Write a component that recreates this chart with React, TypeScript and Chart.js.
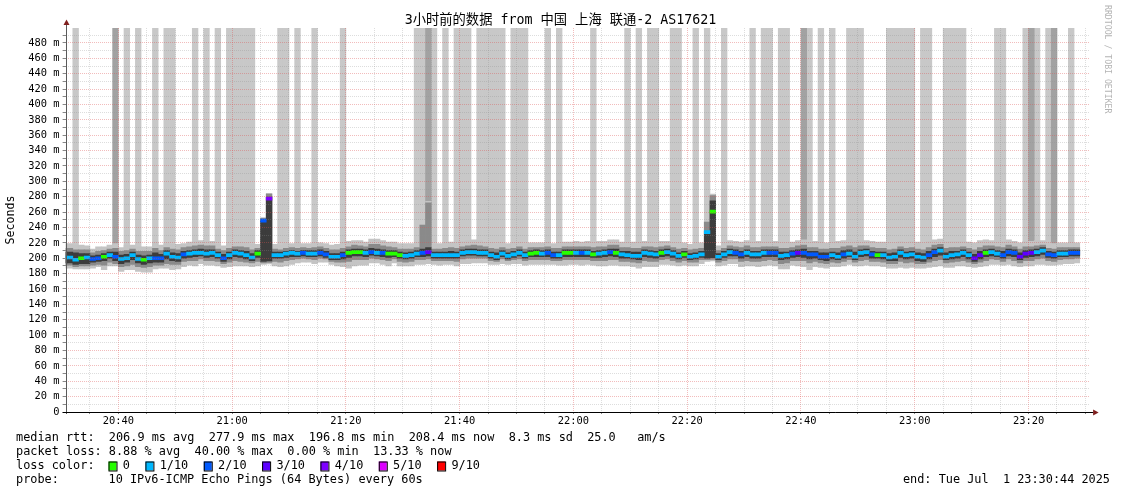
import React, { useEffect, useRef } from "react";
import { Chart, registerables } from "chart.js";

Chart.register(...registerables);

// ---------- DATA ----------
// Columns are one-minute RRD steps; FIRST_MINUTE = minutes after 20:00 of the first column.
const FIRST_MINUTE = 30;
const X_MIN = 30.733; // 20:30:44
const X_MAX = 210.733; // 23:30:44
const Y_MIN = 0;
const Y_MAX = 499.5;

const medianRtt = [
  201,
  201, 198, 200, 201, 199, 200, 202, 204, 202, 199,
  200, 204, 199, 198, 200, 200, 200, 206, 202, 201,
  205, 206, 207, 207, 206, 207, 204, 200, 204, 207,
  206, 204, 201, 206, 249, 277.5, 204, 204, 206, 207,
  206, 207, 206, 206, 207, 205, 202, 202, 204, 207,
  208, 208, 207, 208, 207, 207, 206, 206, 204, 203,
  204, 206, 207, 208, 204, 204, 204, 204, 204, 207,
  208, 208, 207, 207, 204, 202, 206, 203, 205, 207,
  204, 206, 207, 206, 207, 204, 204, 207, 207, 207,
  207, 207, 205, 206, 207, 208, 207, 205, 204, 203,
  203, 207, 206, 205, 207, 208, 206, 203, 205, 202,
  203, 205, 234, 260.6, 202, 205, 208, 207, 205, 207,
  205, 205, 207, 207, 207, 203, 204, 206, 207, 207,
  205, 205, 202, 202, 204, 202, 205, 206, 202, 207,
  208, 205, 204, 204, 201, 202, 207, 204, 205, 202,
  201, 204, 208, 210, 202, 204, 205, 207, 204, 200,
  204, 207, 208, 206, 204, 208, 207, 202, 206, 207,
  208, 210, 205, 204, 206, 206, 207, 207,
];

// lost pings out of 10 for every column
const lossCount = [
  1,
  1, 1, 0, 1, 2, 2, 0, 1, 2, 1,
  1, 1, 1, 0, 1, 2, 2, 1, 1, 1,
  2, 1, 1, 1, 1, 1, 1, 2, 1, 1,
  1, 1, 1, 0, 2, 4, 1, 1, 1, 1,
  1, 2, 1, 1, 2, 2, 1, 1, 2, 0,
  0, 0, 1, 2, 1, 2, 0, 0, 0, 1,
  1, 1, 2, 3, 1, 1, 1, 1, 1, 1,
  1, 1, 1, 1, 1, 1, 1, 1, 1, 1,
  1, 0, 0, 1, 2, 2, 1, 0, 0, 1,
  2, 1, 0, 1, 1, 2, 0, 1, 1, 1,
  1, 1, 1, 1, 0, 1, 1, 1, 0, 1,
  1, 1, 1, 0, 1, 1, 1, 2, 2, 1,
  1, 1, 1, 2, 2, 1, 1, 2, 3, 2,
  2, 2, 2, 2, 1, 1, 2, 1, 1, 1,
  1, 2, 0, 1, 1, 1, 1, 1, 1, 1,
  1, 2, 2, 1, 1, 1, 1, 1, 1, 3,
  3, 0, 1, 1, 2, 2, 2, 3, 3, 3,
  1, 1, 2, 2, 1, 1, 2, 2,
];

// smoke: spread of the ping distribution below / above the median (ms)
const outerBelow = [
  14,
  14, 12, 14, 15, 12, 11, 17, 14, 12, 16,
  15, 19, 16, 16, 18, 14, 13, 19, 17, 15,
  16, 15, 17, 14, 15, 16, 14, 12, 15, 17,
  16, 14, 12, 16, 57, 85, 14, 15, 16, 15,
  12, 12, 11, 13, 12, 10, 10, 12, 15, 20,
  18, 17, 16, 14, 13, 15, 16, 12, 14, 13,
  14, 14, 15, 15, 12, 13, 12, 12, 14, 14,
  15, 14, 13, 13, 12, 10, 13, 11, 12, 14,
  13, 14, 15, 14, 15, 12, 13, 16, 15, 15,
  16, 15, 14, 16, 17, 17, 16, 15, 14, 14,
  16, 18, 17, 16, 15, 16, 15, 13, 14, 12,
  13, 12, 38, 64, 12, 14, 15, 14, 16, 17,
  15, 16, 17, 16, 17, 17, 18, 15, 17, 18,
  20, 16, 14, 15, 15, 13, 15, 14, 12, 17,
  17, 15, 14, 15, 14, 15, 19, 17, 17, 15,
  14, 16, 19, 20, 14, 16, 15, 17, 15, 12,
  15, 17, 16, 14, 13, 16, 17, 13, 16, 17,
  16, 18, 14, 13, 14, 13, 14, 13,
];
const outerAbove = [
  18,
  18, 19, 17, 15, 13, 15, 13, 13, 17, 15,
  17, 13, 16, 17, 15, 21, 17, 13, 16, 17,
  14, 15, 15, 16, 16, 15, 14, 16, 15, 13,
  15, 16, 17, 12, 4, 7, 14, 13, 13, 12,
  13, 12, 13, 14, 13, 14, 15, 16, 16, 15,
  15, 15, 14, 17, 18, 16, 15, 15, 15, 16,
  15, 14, 37, 66, 14, 15, 16, 17, 16, 15,
  15, 16, 16, 14, 16, 17, 14, 16, 15, 14,
  15, 14, 13, 14, 14, 15, 16, 14, 14, 15,
  14, 15, 16, 16, 15, 16, 17, 16, 17, 18,
  18, 15, 16, 16, 15, 14, 15, 17, 15, 16,
  16, 15, 14, 23, 14, 15, 15, 15, 16, 16,
  17, 17, 15, 15, 15, 18, 17, 15, 16, 17,
  16, 17, 19, 18, 17, 20, 18, 18, 21, 16,
  15, 17, 17, 17, 19, 18, 15, 17, 17, 19,
  19, 18, 16, 15, 20, 18, 17, 15, 17, 20,
  19, 17, 15, 17, 18, 16, 15, 18, 16, 15,
  15, 13, 15, 15, 14, 14, 13, 13,
];
const midBelow = [
  10,
  10, 9, 10, 11, 8, 8, 11, 9, 9, 10,
  10, 12, 10, 10, 11, 9, 9, 13, 10, 9,
  9, 9, 10, 8, 9, 10, 8, 7, 9, 10,
  10, 9, 7, 10, 55, 83, 8, 9, 9, 9,
  7, 7, 7, 8, 7, 6, 6, 7, 9, 11,
  10, 10, 9, 8, 8, 9, 9, 7, 8, 8,
  8, 8, 9, 9, 7, 7, 7, 7, 8, 8,
  8, 8, 7, 7, 7, 6, 7, 6, 7, 8,
  7, 8, 9, 8, 9, 7, 7, 9, 9, 9,
  9, 9, 8, 9, 10, 10, 9, 9, 8, 8,
  9, 10, 10, 9, 9, 9, 9, 8, 8, 7,
  8, 7, 36, 62, 7, 8, 9, 8, 9, 10,
  9, 9, 10, 9, 10, 10, 10, 9, 10, 10,
  11, 9, 8, 9, 9, 8, 9, 8, 7, 10,
  10, 9, 8, 9, 8, 9, 11, 10, 10, 9,
  8, 9, 11, 12, 8, 9, 9, 10, 9, 7,
  9, 10, 9, 8, 8, 9, 10, 8, 9, 10,
  9, 10, 8, 8, 8, 7, 8, 7,
];
const midAbove = [
  12,
  12, 13, 11, 10, 8, 9, 8, 8, 11, 10,
  10, 8, 10, 11, 9, 13, 10, 8, 10, 10,
  9, 9, 9, 10, 10, 9, 8, 10, 9, 8,
  9, 10, 10, 7, 3, 6, 8, 7, 7, 7,
  7, 7, 7, 8, 8, 8, 9, 9, 9, 8,
  9, 8, 8, 10, 11, 9, 9, 8, 8, 9,
  8, 8, 36, 64, 8, 8, 9, 10, 9, 8,
  8, 9, 9, 8, 9, 10, 8, 9, 8, 8,
  8, 8, 7, 8, 8, 9, 9, 8, 8, 8,
  8, 8, 9, 9, 8, 9, 10, 9, 10, 10,
  10, 8, 9, 9, 8, 8, 8, 9, 8, 9,
  9, 8, 13, 21, 8, 8, 8, 8, 9, 9,
  9, 9, 8, 8, 8, 10, 9, 8, 9, 10,
  9, 9, 10, 10, 9, 11, 10, 10, 12, 9,
  8, 9, 9, 9, 10, 10, 8, 9, 9, 10,
  10, 10, 9, 8, 11, 10, 9, 8, 9, 11,
  10, 9, 8, 9, 10, 9, 8, 10, 9, 8,
  8, 7, 8, 8, 8, 8, 7, 7,
];
const coreBelow = [
  7,
  7, 6, 7, 8, 4, 4, 5, 4, 5, 6,
  5, 6, 5, 6, 6, 5, 5, 7, 5, 5,
  5, 5, 5, 4, 5, 5, 4, 4, 5, 5,
  5, 5, 4, 5, 53, 81, 4, 4, 5, 5,
  4, 4, 4, 4, 4, 4, 4, 4, 5, 6,
  5, 5, 5, 4, 4, 5, 5, 4, 4, 4,
  4, 4, 5, 5, 4, 4, 4, 4, 4, 4,
  4, 4, 4, 4, 4, 4, 4, 4, 4, 4,
  4, 4, 5, 4, 5, 4, 4, 5, 5, 5,
  5, 5, 4, 5, 5, 5, 5, 5, 4, 4,
  5, 5, 5, 5, 5, 5, 5, 4, 4, 4,
  4, 4, 34, 60, 4, 4, 5, 4, 5, 5,
  5, 5, 5, 5, 5, 5, 5, 5, 5, 6,
  6, 5, 4, 5, 5, 4, 5, 4, 4, 5,
  5, 5, 4, 5, 4, 5, 6, 5, 5, 5,
  5, 5, 6, 6, 4, 5, 5, 5, 5, 4,
  5, 5, 5, 4, 4, 5, 5, 4, 5, 5,
  5, 5, 4, 4, 4, 4, 4, 4,
];
const coreAbove = [
  7,
  7, 9, 6, 5, 4, 4, 4, 4, 6, 5,
  5, 4, 5, 5, 4, 7, 5, 4, 5, 5,
  4, 4, 4, 5, 5, 4, 4, 5, 4, 4,
  4, 5, 5, 4, 1, 2, 4, 4, 3, 3,
  3, 3, 4, 4, 4, 4, 4, 4, 4, 4,
  4, 4, 4, 5, 5, 4, 4, 4, 4, 4,
  4, 4, 5, 6, 4, 4, 4, 5, 4, 4,
  4, 4, 4, 4, 4, 5, 4, 4, 4, 4,
  4, 4, 4, 4, 4, 4, 4, 4, 4, 4,
  4, 4, 4, 4, 4, 4, 5, 4, 5, 5,
  5, 4, 4, 4, 4, 4, 4, 4, 4, 4,
  4, 4, 1, 14, 4, 4, 4, 4, 4, 4,
  4, 4, 4, 4, 4, 5, 4, 4, 4, 5,
  4, 4, 5, 5, 4, 5, 5, 5, 6, 4,
  4, 4, 4, 4, 5, 5, 4, 4, 4, 5,
  5, 5, 4, 4, 5, 5, 4, 4, 4, 5,
  5, 4, 4, 4, 5, 4, 4, 5, 4, 4,
  4, 4, 4, 4, 4, 4, 4, 4,
];

// minutes (after 20:00) whose smoke reaches beyond the top of the graph
const offScaleMinutes = [
  32, 41, 43, 46, 48, 49, 53, 55, 57, 59, 60, 61, 62, 63, 68, 69, 71, 74, 79,
  92, 93, 95, 97, 99, 100, 101, 103, 104, 105, 106, 107, 109, 110, 111, 115,
  117, 123, 129, 131, 133, 134, 137, 138, 141, 143, 146, 151, 153, 154, 156,
  157, 161, 163, 165, 168, 169, 170, 175, 176, 177, 178, 179, 181, 182, 185,
  186, 187, 188, 194, 195, 199, 201, 203, 207,
];
const offScaleHeavyMinutes = [39, 94, 160, 200, 204];

const xTickMinutes = [
  35, 40, 45, 50, 55, 60, 65, 70, 75, 80, 85, 90, 95, 100, 105, 110, 115, 120,
  125, 130, 135, 140, 145, 150, 155, 160, 165, 170, 175, 180, 185, 190, 195,
  200, 205, 210,
];
const yTickValues = [
  0, 10, 20, 30, 40, 50, 60, 70, 80, 90, 100, 110, 120, 130, 140, 150, 160,
  170, 180, 190, 200, 210, 220, 230, 240, 250, 260, 270, 280, 290, 300, 310,
  320, 330, 340, 350, 360, 370, 380, 390, 400, 410, 420, 430, 440, 450, 460,
  470, 480, 490,
];

const lossColorMap: Record<number, string> = {
  0: "#26ff00",
  1: "#00b8ff",
  2: "#0059ff",
  3: "#5e00ff",
  4: "#7e00ff",
  5: "#dd00ff",
  9: "#ff0000",
};
const lossLegendCounts = [0, 1, 2, 3, 4, 5, 9];
const lossLegendLabels = ["0", "1/10", "2/10", "3/10", "4/10", "5/10", "9/10"];

const TITLE = "3小时前的数据 from 中国 上海 联通-2 AS17621";
const Y_TITLE = "Seconds";
const WATERMARK = "RRDTOOL / TOBI OETIKER";
const LEGEND_RTT =
  "median rtt:  206.9 ms avg  277.9 ms max  196.8 ms min  208.4 ms now  8.3 ms sd  25.0   am/s";
const LEGEND_LOSS = "packet loss: 8.88 % avg  40.00 % max  0.00 % min  13.33 % now";
const LEGEND_LOSS_COLOR = "loss color:";
const LEGEND_PROBE = "probe:";
const LEGEND_PROBE_TEXT = "10 IPv6-ICMP Echo Pings (64 Bytes) every 60s";
const LEGEND_END = "end: Tue Jul  1 23:30:44 2025";

// ---------- STYLE ----------
const MONO = '"DejaVu Sans Mono", "Noto Sans CJK SC", monospace';
const MAJOR_GRID = "rgba(222,79,79,0.38)";
const MINOR_GRID = "rgba(143,143,143,0.3)";
const MEDIAN_HALF = 1.95; // half thickness of the median mark in ms (3 px)

function lossColor(n: number): string {
  if (lossColorMap[n]) return lossColorMap[n];
  if (n >= 9) return lossColorMap[9];
  return lossColorMap[5];
}

function minuteLabel(v: number): string {
  const h = 20 + Math.floor(v / 60);
  const m = v % 60;
  return `${h}:${String(m).padStart(2, "0")}`;
}

const columns = medianRtt.map((_, i) => FIRST_MINUTE + i);

function band(below: number[], above: number[]) {
  return columns.map((m, i) => ({
    x: m + 0.5,
    y: [medianRtt[i] - below[i], medianRtt[i] + above[i]],
  }));
}

function offScale(minutes: number[]) {
  return minutes.map((m) => ({
    x: m + 0.5,
    y: [medianRtt[m - FIRST_MINUTE], Y_MAX],
  }));
}

const barBase = {
  type: "bar" as const,
  grouped: false,
  barPercentage: 1,
  categoryPercentage: 1,
  borderWidth: 0,
  clip: 0,
};

const decorPlugin = {
  id: "smokeDecor",
  afterDraw(chart: any) {
    const ctx: CanvasRenderingContext2D = chart.ctx;
    const { left, right, top, bottom } = chart.chartArea;
    ctx.save();

    // axes
    const ax = Math.round(left) + 0.5;
    ctx.lineWidth = 1;
    ctx.strokeStyle = "#5a5a5a";
    ctx.beginPath();
    ctx.moveTo(ax, bottom + 2);
    ctx.lineTo(ax, top - 4);
    ctx.stroke();
    ctx.strokeStyle = "#000";
    ctx.beginPath();
    ctx.moveTo(left - 3, bottom + 0.5);
    ctx.lineTo(right + 4, bottom + 0.5);
    ctx.stroke();
    ctx.fillStyle = "#80201f";
    ctx.beginPath();
    ctx.moveTo(ax - 3, top - 3);
    ctx.lineTo(ax + 3, top - 3);
    ctx.lineTo(ax, top - 8.5);
    ctx.closePath();
    ctx.fill();
    const ay = bottom + 0.5;
    ctx.beginPath();
    ctx.moveTo(right + 3.5, ay - 3);
    ctx.lineTo(right + 3.5, ay + 3);
    ctx.lineTo(right + 9, ay);
    ctx.closePath();
    ctx.fill();

    // title
    ctx.fillStyle = "#000";
    ctx.font = `13.3px ${MONO}`;
    ctx.textAlign = "center";
    ctx.textBaseline = "middle";
    ctx.fillText(TITLE, 560.5, 21);

    // vertical axis title
    ctx.save();
    ctx.font = `11.6px ${MONO}`;
    ctx.translate(11, (top + bottom) / 2);
    ctx.rotate(-Math.PI / 2);
    ctx.fillText(Y_TITLE, 0, 0);
    ctx.restore();

    // watermark
    ctx.save();
    ctx.font = `8.2px ${MONO}`;
    ctx.fillStyle = "#b4b4b4";
    ctx.textAlign = "left";
    ctx.translate(1107, 5);
    ctx.rotate(Math.PI / 2);
    ctx.fillText(WATERMARK, 0, 0);
    ctx.restore();

    // legend
    const fs = 11.86;
    ctx.font = `${fs}px ${MONO}`;
    ctx.textAlign = "left";
    ctx.textBaseline = "middle";
    ctx.fillStyle = "#000";
    const lx = 16;
    const rows = [438, 452, 466, 480];
    ctx.fillText(LEGEND_RTT, lx, rows[0]);
    ctx.fillText(LEGEND_LOSS, lx, rows[1]);
    ctx.fillText(LEGEND_LOSS_COLOR, lx, rows[2]);
    let x = 108.5;
    const cw = ctx.measureText("0").width;
    lossLegendCounts.forEach((n, k) => {
      ctx.fillStyle = lossColor(n);
      ctx.fillRect(x, rows[2] - 4.5, 8, 9);
      ctx.strokeStyle = "#000";
      ctx.lineWidth = 1;
      ctx.strokeRect(x + 0.5, rows[2] - 4.5 + 0.5, 8, 9);
      ctx.fillStyle = "#000";
      const tx = x + 2 * cw;
      ctx.fillText(lossLegendLabels[k], tx, rows[2]);
      x = tx + lossLegendLabels[k].length * cw + 15.5;
    });
    ctx.fillText(LEGEND_PROBE, lx, rows[3]);
    ctx.fillText(LEGEND_PROBE_TEXT, 108.5, rows[3]);
    ctx.textAlign = "right";
    ctx.fillText(LEGEND_END, 1110, rows[3]);

    ctx.restore();
  },
};

export default function App() {
  const ref = useRef<HTMLCanvasElement | null>(null);

  useEffect(() => {
    document.body.style.margin = "0";
    const canvas = ref.current;
    if (!canvas) return;

    const datasets: any[] = [
      {
        ...barBase,
        label: "median",
        order: 0,
        data: columns.map((m, i) => ({
          x: m + 0.5,
          y: [medianRtt[i] - MEDIAN_HALF, medianRtt[i] + MEDIAN_HALF],
        })),
        backgroundColor: lossCount.map((n) => lossColor(n)),
      },
      { ...barBase, label: "core", order: 1, data: band(coreBelow, coreAbove), backgroundColor: "#3c3c3c" },
      { ...barBase, label: "mid", order: 2, data: band(midBelow, midAbove), backgroundColor: "#8a8a8a" },
      { ...barBase, label: "outer", order: 3, data: band(outerBelow, outerAbove), backgroundColor: "#c4c4c4" },
      { ...barBase, label: "offscale heavy", order: 4, data: offScale(offScaleHeavyMinutes), backgroundColor: "#a2a2a2" },
      { ...barBase, label: "offscale", order: 5, data: offScale(offScaleMinutes), backgroundColor: "#c8c8c8" },
    ];

    const chart = new Chart(canvas, {
      type: "bar",
      data: { datasets },
      options: {
        responsive: false,
        animation: false,
        events: [],
        layout: { padding: { left: 0, top: 28, right: 1121 - 1089.6, bottom: 0 } },
        plugins: {
          legend: { display: false },
          tooltip: { enabled: false },
          title: { display: false },
        },
        scales: {
          x: {
            type: "linear",
            min: X_MIN,
            max: X_MAX,
            offset: false,
            afterFit: (s: any) => {
              s.height = 82;
            },
            afterBuildTicks: (s: any) => {
              s.ticks = xTickMinutes.map((v) => ({ value: v }));
            },
            ticks: {
              autoSkip: false,
              maxRotation: 0,
              padding: 1,
              color: "#000",
              font: { family: MONO, size: 10.4 },
              callback: (v: any) => (Number(v) % 20 === 0 ? minuteLabel(Number(v)) : ""),
            },
            grid: {
              z: 1,
              offset: false,
              lineWidth: 1,
              drawTicks: true,
              tickLength: 2,
              tickColor: "#888",
              color: (c: any) =>
                c.tick && c.tick.value % 20 === 0 ? MAJOR_GRID : MINOR_GRID,
            },
            border: { display: false, dash: [1, 1] },
          },
          y: {
            type: "linear",
            min: Y_MIN,
            max: Y_MAX,
            afterFit: (s: any) => {
              s.width = 65.6;
            },
            afterBuildTicks: (s: any) => {
              s.ticks = yTickValues.map((v) => ({ value: v }));
            },
            ticks: {
              autoSkip: false,
              padding: 3,
              color: "#000",
              font: { family: MONO, size: 10.4 },
              callback: (v: any) => {
                const n = Number(v);
                if (n % 20 !== 0) return "";
                return n === 0 ? "0" : `${n} m`;
              },
            },
            grid: {
              z: 1,
              lineWidth: 1,
              drawTicks: true,
              tickLength: 3,
              tickColor: "#888",
              color: (c: any) => {
                const v = c.tick ? c.tick.value : -1;
                if (v === 0) return "rgba(0,0,0,0)";
                return v % 20 === 0 ? MAJOR_GRID : MINOR_GRID;
              },
            },
            border: { display: false, dash: [1, 1] },
          },
        },
      } as any,
      plugins: [decorPlugin],
    });

    return () => chart.destroy();
  }, []);

  return (
    <canvas
      ref={ref}
      width={1121}
      height={494}
      style={{ display: "block", width: 1121, height: 494 }}
    />
  );
}
